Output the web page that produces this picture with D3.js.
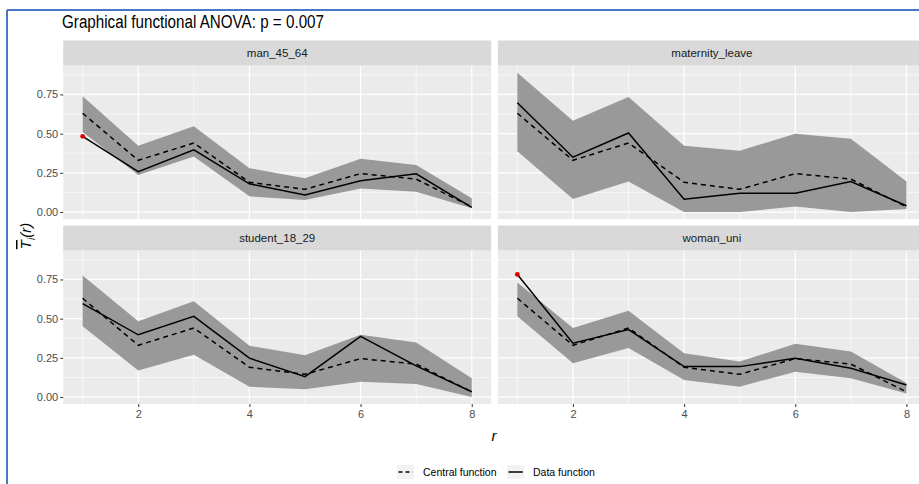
<!DOCTYPE html>
<html>
<head>
<meta charset="utf-8">
<script src="https://cdn.jsdelivr.net/npm/d3@7"></script>
<style>
  body { margin: 0; background: #fff; }
  svg { display: block; font-family: "Liberation Sans", Arial, sans-serif; }
</style>
</head>
<body>
<div id="chart"></div>
<script>
// values
var panelNames = ["man_45_64", "maternity_leave", "student_18_29", "woman_uni"];
var rValues = [1, 2, 3, 4, 5, 6, 7, 8];
var xTicks = [2, 4, 6, 8];
var yTicks = [0, 0.25, 0.5, 0.75];

var central = [0.63, 0.33, 0.44, 0.19, 0.145, 0.245, 0.21, 0.033];

var manData = [0.483, 0.258, 0.397, 0.18, 0.109, 0.20, 0.244, 0.03];
var manLo   = [0.51, 0.237, 0.355, 0.10, 0.077, 0.15, 0.13, 0.024];
var manHi   = [0.739, 0.423, 0.547, 0.28, 0.216, 0.34, 0.30, 0.088];

var maternityData = [0.697, 0.35, 0.504, 0.081, 0.12, 0.12, 0.194, 0.04];
var maternityLo   = [0.387, 0.083, 0.194, 0.0, 0.0, 0.035, 0.0, 0.02];
var maternityHi   = [0.889, 0.583, 0.733, 0.423, 0.391, 0.50, 0.468, 0.194];

var studentData = [0.596, 0.397, 0.515, 0.248, 0.13, 0.387, 0.199, 0.034];
var studentLo   = [0.451, 0.169, 0.269, 0.066, 0.049, 0.098, 0.083, 0.0];
var studentHi   = [0.776, 0.483, 0.611, 0.327, 0.267, 0.397, 0.348, 0.12];

var womanData = [0.782, 0.344, 0.43, 0.194, 0.194, 0.248, 0.184, 0.077];
var womanLo   = [0.515, 0.216, 0.312, 0.109, 0.066, 0.162, 0.12, 0.023];
var womanHi   = [0.73, 0.44, 0.551, 0.28, 0.226, 0.34, 0.29, 0.09];

var dataSets = [manData, maternityData, studentData, womanData];
var loSets = [manLo, maternityLo, studentLo, womanLo];
var hiSets = [manHi, maternityHi, studentHi, womanHi];

var width = 919, height = 484;
var panelW = 428, panelH = 153.3, stripH = 25.2;
var colX = [63.2, 497.9];
var rowY = [65.7, 250.7];   // top of each plot area (below strip)

var svg = d3.select("#chart").append("svg")
    .attr("width", width)
    .attr("height", height);

// blue frame of the screenshot
svg.append("line").attr("x1", 7).attr("x2", 7).attr("y1", 10).attr("y2", height)
    .attr("stroke", "#4a76c6").attr("stroke-width", 2);
svg.append("line").attr("x1", 7).attr("x2", width).attr("y1", 10).attr("y2", 10)
    .attr("stroke", "#4a76c6").attr("stroke-width", 2);

svg.append("text")
    .attr("x", 62).attr("y", 28)
    .attr("font-size", 18)
    .attr("textLength", 262)
    .attr("lengthAdjust", "spacingAndGlyphs")
    .attr("fill", "#000")
    .text("Graphical functional ANOVA: p = 0.007");

// shared scales (ggplot style 5% expansion)
var yMax = d3.max(hiSets, function(a) { return d3.max(a); }),
    yMin = d3.min(loSets, function(a) { return d3.min(a); });
var yPad = (yMax - yMin) * 0.05;
var x = d3.scaleLinear().domain([1 - 0.35, 8 + 0.35]).range([0, panelW]);
var y = d3.scaleLinear().domain([yMin - yPad, yMax + yPad]).range([panelH, 0]);

var area = d3.area()
    .x(function(d) { return x(d.r); })
    .y0(function(d) { return y(d.lo); })
    .y1(function(d) { return y(d.hi); });
var line = d3.line()
    .x(function(d) { return x(d.r); })
    .y(function(d) { return y(d.v); });

var xMinor = [1, 3, 5, 7];
var yMinor = [0.125, 0.375, 0.625, 0.875];

panelNames.forEach(function(name, i) {
  var col = i % 2, row = Math.floor(i / 2);
  var g = svg.append("g")
      .attr("transform", "translate(" + colX[col] + "," + rowY[row] + ")");

  // strip
  g.append("rect")
      .attr("x", 0).attr("y", -stripH)
      .attr("width", panelW).attr("height", stripH)
      .attr("fill", "#d9d9d9");
  g.append("text")
      .attr("x", panelW / 2).attr("y", -stripH / 2)
      .attr("dy", "0.35em")
      .attr("text-anchor", "middle")
      .attr("font-size", 11.5)
      .attr("fill", "#1a1a1a")
      .text(name);

  g.append("rect")
      .attr("width", panelW).attr("height", panelH)
      .attr("fill", "#ebebeb");

  // grid
  g.selectAll(".ymin").data(yMinor.filter(function(v) { return v < y.domain()[1]; }))
    .enter().append("line")
      .attr("x1", 0).attr("x2", panelW)
      .attr("y1", y).attr("y2", y)
      .attr("stroke", "#fff").attr("stroke-width", 0.6);
  g.selectAll(".xmin").data(xMinor)
    .enter().append("line")
      .attr("y1", 0).attr("y2", panelH)
      .attr("x1", x).attr("x2", x)
      .attr("stroke", "#fff").attr("stroke-width", 0.6);
  g.selectAll(".ymaj").data(yTicks)
    .enter().append("line")
      .attr("x1", 0).attr("x2", panelW)
      .attr("y1", y).attr("y2", y)
      .attr("stroke", "#fff").attr("stroke-width", 1.2);
  g.selectAll(".xmaj").data(xTicks)
    .enter().append("line")
      .attr("y1", 0).attr("y2", panelH)
      .attr("x1", x).attr("x2", x)
      .attr("stroke", "#fff").attr("stroke-width", 1.2);

  var rows = rValues.map(function(r, j) {
    return {r: r, lo: loSets[i][j], hi: hiSets[i][j], v: dataSets[i][j], c: central[j]};
  });

  g.append("path").datum(rows)
      .attr("d", area)
      .attr("fill", "#999999");

  g.append("path").datum(rows.map(function(d) { return {r: d.r, v: d.c}; }))
      .attr("d", line)
      .attr("fill", "none")
      .attr("stroke", "#000")
      .attr("stroke-width", 1.5)
      .attr("stroke-dasharray", "5,4");

  g.append("path").datum(rows)
      .attr("d", line)
      .attr("fill", "none")
      .attr("stroke", "#000")
      .attr("stroke-width", 1.5);

  g.selectAll(".out").data(rows.filter(function(d) { return d.v < d.lo || d.v > d.hi; }))
    .enter().append("circle")
      .attr("cx", function(d) { return x(d.r); })
      .attr("cy", function(d) { return y(d.v); })
      .attr("r", 2.4)
      .attr("fill", "#e00000");

  // axes
  if (col === 0) {
    var ya = g.append("g")
        .call(d3.axisLeft(y).tickValues(yTicks).tickFormat(d3.format(".2f")).tickSize(3).tickPadding(2));
    ya.select(".domain").remove();
    ya.selectAll("line").attr("stroke", "#333");
    ya.selectAll("text").attr("font-size", 11).attr("fill", "#4d4d4d")
        .attr("font-family", "Liberation Sans, Arial, sans-serif");
  }
  if (row === 1) {
    var xa = g.append("g")
        .attr("transform", "translate(0," + panelH + ")")
        .call(d3.axisBottom(x).tickValues(xTicks).tickSize(3).tickPadding(3));
    xa.select(".domain").remove();
    xa.selectAll("line").attr("stroke", "#333");
    xa.selectAll("text").attr("font-size", 11).attr("fill", "#4d4d4d")
        .attr("font-family", "Liberation Sans, Arial, sans-serif");
  }
});

// axis titles
svg.append("text")
    .attr("x", 494).attr("y", 441)
    .attr("text-anchor", "middle")
    .attr("font-size", 15)
    .attr("font-style", "italic")
    .text("r");

var yl = svg.append("text")
    .attr("transform", "translate(31,236) rotate(-90)")
    .attr("text-anchor", "middle")
    .attr("font-size", 15)
    .attr("font-style", "italic");
yl.append("tspan").attr("text-decoration", "overline").text("T");
yl.append("tspan").attr("font-size", 10).attr("dy", 4).text("i");
yl.append("tspan").attr("dy", -4).text("(r)");

// legend
var legendItems = [
  {label: "Central function", dash: "4,3", x: 397},
  {label: "Data function", dash: null, x: 507}
];
var lg = svg.append("g").attr("transform", "translate(0,465)");
legendItems.forEach(function(d) {
  lg.append("rect").attr("x", d.x).attr("y", 0).attr("width", 17.3).attr("height", 14)
      .attr("fill", "#f2f2f2");
  lg.append("line").attr("x1", d.x + 1.5).attr("x2", d.x + 15.8)
      .attr("y1", 7).attr("y2", 7)
      .attr("stroke", "#000").attr("stroke-width", 1.5)
      .attr("stroke-dasharray", d.dash);
  lg.append("text").attr("x", d.x + 26).attr("y", 7).attr("dy", "0.35em")
      .attr("font-size", 10.5).attr("fill", "#000")
      .text(d.label);
});
</script>
</body>
</html>
